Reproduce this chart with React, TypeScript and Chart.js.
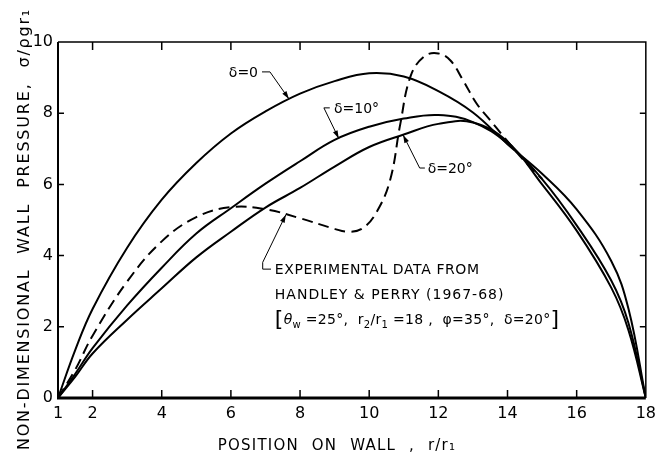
import { useEffect, useRef } from 'react';
import { Chart, registerables } from 'chart.js';

Chart.register(...registerables);

const FONT = '"DejaVu Sans", "Liberation Sans", sans-serif';

// Computed wall pressure (σ/ρgr1) against position on the wall (r/r1)
const positions = [1, 1.5, 2, 3, 4, 5, 6, 7, 8, 9, 10, 11, 12, 13, 14, 15, 16, 17, 17.5, 18];
const delta0 = [0, 1.35, 2.5, 4.22, 5.57, 6.6, 7.43, 8.05, 8.55, 8.9, 9.12, 9.03, 8.62, 8.02, 7.13, 6.3, 5.3, 3.85, 2.5, 0];
const delta10 = [0, 0.68, 1.4, 2.6, 3.66, 4.62, 5.33, 6.02, 6.65, 7.25, 7.62, 7.85, 7.95, 7.75, 7.15, 6.15, 4.85, 3.3, 2.1, 0];
const delta20 = [0, 0.6, 1.25, 2.2, 3.08, 3.95, 4.67, 5.35, 5.9, 6.5, 7.05, 7.4, 7.7, 7.74, 7.2, 6.0, 4.7, 3.1, 1.9, 0];

// Handley & Perry (1967-68) measurements
const expPositions = [1, 1.5, 2, 3, 4, 5, 6, 7, 8, 9, 9.4, 9.8, 10.2, 10.6, 10.9, 11.2, 11.6, 12.0, 12.35, 12.7, 13.1, 13.5, 13.9, 14.45, 15.0];
const expPressure = [0, 0.8, 1.75, 3.27, 4.4, 5.08, 5.36, 5.3, 5.05, 4.75, 4.67, 4.76, 5.2, 6.1, 7.7, 9.05, 9.6, 9.68, 9.48, 8.95, 8.28, 7.8, 7.33, 6.7, 6.15];

const xTickValues = [1, 2, 4, 6, 8, 10, 12, 14, 16, 18];
const xTickMarks = [2, 4, 6, 8, 10, 12, 14, 16];
const yTickValues = [0, 2, 4, 6, 8, 10];
const yTickMarks = [2, 4, 6, 8];

type Pt = [number, number];
type Seg = { t: string; size?: number; italic?: boolean; dy?: number };

// Callout labels, anchored in data units; each leader path ends at its arrow tip
const callouts: { lines: Seg[][]; spacing: number[]; at: Pt; lineGap: number; path: Pt[] }[] = [
  { lines: [[{ t: 'δ=0' }]], spacing: [0], at: [5.94, 9.16], lineGap: 0, path: [[6.9, 9.16], [7.13, 9.16], [7.68, 8.4]] },
  { lines: [[{ t: 'δ=10°' }]], spacing: [0], at: [8.98, 8.15], lineGap: 0, path: [[8.86, 8.15], [8.69, 8.15], [9.12, 7.29]] },
  { lines: [[{ t: 'δ=20°' }]], spacing: [0], at: [11.69, 6.46], lineGap: 0, path: [[11.61, 6.46], [11.46, 6.46], [10.98, 7.39]] },
  {
    lines: [
      [{ t: 'EXPERIMENTAL DATA FROM' }],
      [{ t: 'HANDLEY & PERRY (1967-68)' }],
      [
        { t: '[', size: 22, dy: 2 },
        { t: 'θ', italic: true },
        { t: 'w', size: 10, dy: 4 },
        { t: ' =25°,  r' },
        { t: '2', size: 10, dy: 4 },
        { t: '/r' },
        { t: '1', size: 10, dy: 4 },
        { t: ' =18 ,  φ=35°,  δ=20°' },
        { t: ']', size: 22, dy: 2 },
      ],
    ],
    spacing: [0.6, 1.0, 0.3],
    at: [7.27, 3.62],
    lineGap: 25,
    path: [[7.16, 3.62], [6.92, 3.62], [6.92, 3.81], [7.59, 5.15]],
  },
];

function drawSegments(ctx: CanvasRenderingContext2D, x: number, yMid: number, segs: Seg[]) {
  let cx = x;
  for (const s of segs) {
    const size = s.size ?? 14;
    ctx.font = `${s.italic ? 'italic ' : ''}${size}px ${FONT}`;
    ctx.fillText(s.t, cx, yMid + 5 + (s.dy ?? 0));
    cx += ctx.measureText(s.t).width;
  }
}

const decorations = {
  id: 'decorations',
  afterDatasetsDraw(chart: any) {
    const { ctx, chartArea: a, scales } = chart;
    const xs = scales.x;
    const ys = scales.y;
    const px = (p: Pt): Pt => [xs.getPixelForValue(p[0]), ys.getPixelForValue(p[1])];
    ctx.save();
    ctx.strokeStyle = '#000';
    ctx.fillStyle = '#000';
    ctx.lineCap = 'butt';

    // frame
    ctx.lineWidth = 1.5;
    ctx.beginPath();
    ctx.moveTo(a.left, a.top);
    ctx.lineTo(a.right, a.top);
    ctx.lineTo(a.right, a.bottom);
    ctx.stroke();
    ctx.lineWidth = 2;
    ctx.beginPath();
    ctx.moveTo(a.left, a.top);
    ctx.lineTo(a.left, a.bottom);
    ctx.stroke();
    ctx.lineWidth = 3;
    ctx.beginPath();
    ctx.moveTo(a.left - 1, a.bottom);
    ctx.lineTo(a.right, a.bottom);
    ctx.stroke();

    // inward tick marks on all four sides
    ctx.lineWidth = 1.5;
    ctx.beginPath();
    for (const v of xTickMarks) {
      const x = xs.getPixelForValue(v);
      ctx.moveTo(x, a.bottom);
      ctx.lineTo(x, a.bottom - 8);
      ctx.moveTo(x, a.top);
      ctx.lineTo(x, a.top + 8);
    }
    for (const v of yTickMarks) {
      const y = ys.getPixelForValue(v);
      ctx.moveTo(a.left, y);
      ctx.lineTo(a.left + 6, y);
      ctx.moveTo(a.right, y);
      ctx.lineTo(a.right - 6, y);
    }
    ctx.stroke();

    // callouts
    ctx.textAlign = 'left';
    ctx.textBaseline = 'alphabetic';
    for (const c of callouts) {
      const [tx, ty] = px(c.at);
      c.lines.forEach((segs, i) => {
        (ctx as any).letterSpacing = `${c.spacing[i] ?? 0}px`;
        drawSegments(ctx, tx, ty + i * c.lineGap, segs);
      });
      (ctx as any).letterSpacing = '0px';
      const pts = c.path.map(px);
      ctx.lineWidth = 1;
      ctx.beginPath();
      ctx.moveTo(pts[0][0], pts[0][1]);
      for (let i = 1; i < pts.length; i++) ctx.lineTo(pts[i][0], pts[i][1]);
      ctx.stroke();
      const [x1, y1] = pts[pts.length - 2];
      const [x2, y2] = pts[pts.length - 1];
      const ang = Math.atan2(y2 - y1, x2 - x1);
      ctx.save();
      ctx.translate(x2, y2);
      ctx.rotate(ang);
      ctx.beginPath();
      ctx.moveTo(0, 0);
      ctx.lineTo(-8, -2.5);
      ctx.lineTo(-8, 2.5);
      ctx.closePath();
      ctx.fill();
      ctx.restore();
    }

    // axis titles
    ctx.textAlign = 'center';
    ctx.textBaseline = 'middle';
    ctx.font = `15px ${FONT}`;
    (ctx as any).letterSpacing = '1.2px';
    (ctx as any).wordSpacing = '7px';
    ctx.fillText('POSITION ON WALL , r/r₁', 337, 446);
    ctx.font = `16px ${FONT}`;
    (ctx as any).letterSpacing = '1.8px';
    (ctx as any).wordSpacing = '8px';
    ctx.save();
    ctx.translate(25, 229);
    ctx.rotate(-Math.PI / 2);
    ctx.fillText('NON-DIMENSIONAL WALL PRESSURE, σ/ρgr₁', 0, 0);
    ctx.restore();
    ctx.restore();
  },
};

function series(xv: number[], yv: number[], label: string) {
  return {
    label,
    data: xv.map((x, i) => ({ x, y: yv[i] })),
    borderColor: '#000',
    borderWidth: 2,
    pointRadius: 0,
    fill: false,
    tension: 0.4,
  };
}

export default function App() {
  const ref = useRef<HTMLCanvasElement>(null);
  useEffect(() => {
    const canvas = ref.current!;
    const tickFont = { family: FONT, size: 16 };
    const chart = new Chart(canvas, {
      type: 'line',
      data: {
        datasets: [
          series(positions, delta0, 'δ = 0'),
          series(positions, delta10, 'δ = 10°'),
          series(positions, delta20, 'δ = 20°'),
          { ...series(expPositions, expPressure, 'Handley & Perry (1967-68)'), borderDash: [11, 6] },
        ],
      },
      options: {
        responsive: false,
        animation: false,
        layout: { padding: { top: 42, right: 12, left: 0, bottom: 0 } },
        plugins: { legend: { display: false }, tooltip: { enabled: false } },
        scales: {
          x: {
            type: 'linear',
            min: 1,
            max: 18,
            afterBuildTicks: (s: any) => {
              s.ticks = xTickValues.map((value) => ({ value }));
            },
            afterFit: (s: any) => {
              s.height = 62;
            },
            grid: { display: false, drawTicks: false },
            border: { display: false },
            ticks: {
              color: '#000',
              font: tickFont,
              padding: 6,
              maxRotation: 0,
              autoSkip: false,
              callback: (v: any) => String(v),
            },
          },
          y: {
            type: 'linear',
            min: 0,
            max: 10,
            afterBuildTicks: (s: any) => {
              s.ticks = yTickValues.map((value) => ({ value }));
            },
            afterFit: (s: any) => {
              s.width = 58;
            },
            grid: { display: false, drawTicks: false },
            border: { display: false },
            ticks: {
              color: '#000',
              font: tickFont,
              padding: 5,
              callback: (v: any) => String(v),
            },
          },
        },
      },
      plugins: [decorations],
    });
    return () => chart.destroy();
  }, []);
  return (
    <div style={{ position: 'fixed', left: 0, top: 0, width: 662, height: 460, background: '#fff' }}>
      <canvas ref={ref} width={662} height={460} style={{ display: 'block' }} />
    </div>
  );
}
